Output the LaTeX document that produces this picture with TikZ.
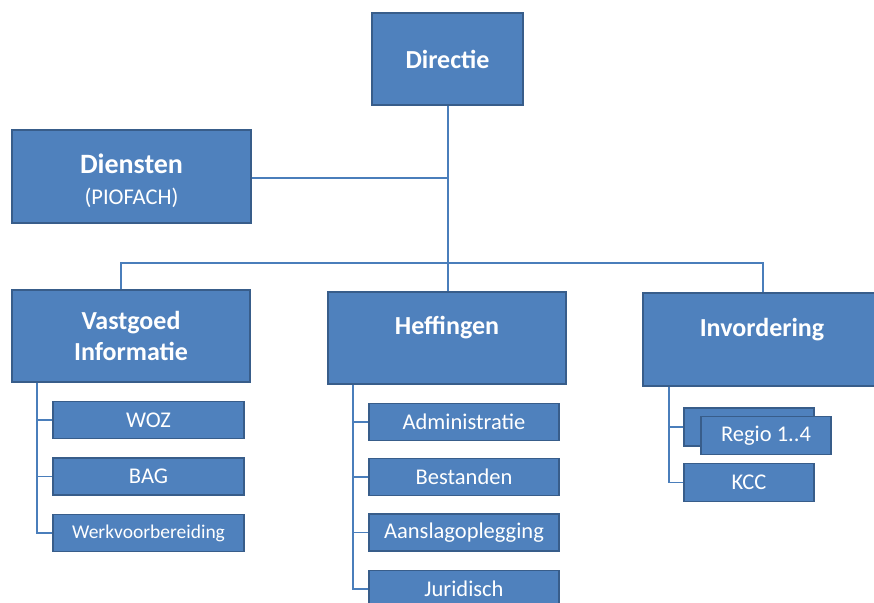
\documentclass[tikz,border=0pt]{standalone}
\usepackage{fontspec}
\setmainfont{Carlito}
\definecolor{boxfill}{HTML}{4F81BD}
\definecolor{boxline}{HTML}{385D8A}
\definecolor{linkline}{HTML}{4A7EBB}

\begin{document}
\begin{tikzpicture}[x=1pt, y=-1pt,
	unit/.style={rectangle, fill=boxfill, draw=boxline, line width=1.6pt, text=white, inner sep=0pt, align=center, font=\fontsize{26}{31}\selectfont\bfseries, minimum width=238, minimum height=92},
	sub/.style={rectangle, fill=boxfill, draw=boxline, line width=1.6pt, text=white, inner sep=0pt, align=center, font=\fontsize{22.5}{26}\selectfont, minimum width=190, minimum height=37},
	conn/.style={draw=linkline, line width=1.2pt}]
	\useasboundingbox (0,0) rectangle (874,602);
	\clip (0,0) rectangle (874,602);
	% top
	\node[unit, minimum width=151] (dir) at (447.5, 59) {Directie};
	\node[unit, minimum width=239, minimum height=93] (dien) at (131.5, 176.5) {\phantom{I}\\[-19pt]{\fontsize{28}{31}\selectfont Diensten}\\[0pt]{\mdseries\fontsize{22.5}{26}\selectfont (PIOFACH)}};
	% afdelingen
	\node[unit] (vast) at (131, 336) {Vastgoed\\Informatie};
	\node[unit] (heff) at (447, 338) {Heffingen\\[-6pt]\phantom{I}};
	\node[unit, minimum height=93] (invo) at (762, 339.5) {Invordering\\[-6pt]\phantom{I}};
	% vastgoed
	\node[sub, minimum width=191] (woz) at (148.5, 420) {WOZ};
	\node[sub, minimum width=191] (bag) at (148.5, 476.5) {BAG};
	\node[sub, minimum width=191, font=\fontsize{19.5}{24}\selectfont] (werk) at (148.5, 533) {Werkvoorbereiding};
	% heffingen
	\node[sub] (admin) at (464, 422) {Administratie};
	\node[sub] (best) at (464, 477) {Bestanden};
	\node[sub] (aansl) at (464, 532.5) {Aanslagoplegging};
	\node[sub] (jur) at (464, 589) {Juridisch};
	% invordering
	\node[sub, minimum width=130, minimum height=38] (regiob) at (749, 427) {};
	\node[sub, minimum width=130, minimum height=38] (regio) at (766, 435.5) {Regio 1..4};
	\node[sub, minimum width=130, minimum height=38] (kcc) at (749, 482.5) {KCC};
	% lijnen
	\coordinate (knik) at (448, 178);
	\coordinate (busL) at (121, 263);
	\coordinate (busR) at (763, 263);
	\coordinate (vl) at (37, 0);
	\coordinate (hl) at (353, 0);
	\coordinate (il) at (669, 0);
	\draw[conn] (dir.south -| knik) -- (heff.north -| knik);
	\draw[conn] (dien.east |- knik) -- (knik);
	\draw[conn] (vast.north -| busL) -- (busL) -- (busR) -- (invo.north -| busR);
	\draw[conn] (vast.south -| vl) |- (werk.west);
	\draw[conn] (woz.west) -- (woz.west -| vl);
	\draw[conn] (bag.west) -- (bag.west -| vl);
	\draw[conn] (heff.south -| hl) |- (jur.west);
	\draw[conn] (admin.west) -- (admin.west -| hl);
	\draw[conn] (best.west) -- (best.west -| hl);
	\draw[conn] (aansl.west) -- (aansl.west -| hl);
	\draw[conn] (invo.south -| il) |- (kcc.west);
	\draw[conn] (regiob.west) -- (regiob.west -| il);
\end{tikzpicture}
\end{document}
